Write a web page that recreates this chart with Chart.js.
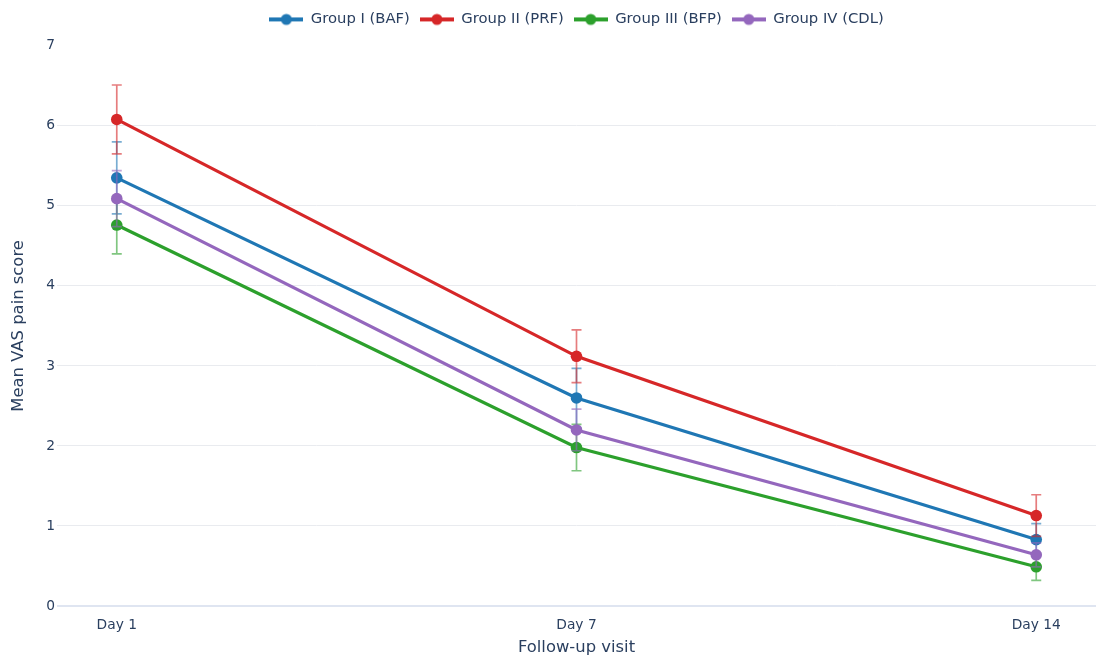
<!DOCTYPE html>
<html>
<head>
<meta charset="utf-8">
<script src="https://cdn.jsdelivr.net/npm/chart.js@4.4.1/dist/chart.umd.min.js"></script>
<style>
    html, body { margin: 0; padding: 0; background: #fff; }
    #wrap { width: 1096px; height: 658px; }
</style>
</head>
<body>
<div id="wrap"><canvas id="painChart" width="1096" height="658"></canvas></div>
<script>
// follow-up visits
const visits = ["Day 1", "Day 7", "Day 14"];

// mean VAS pain score per group
const groupI = [5.35, 2.60, 0.83];
const groupII = [6.08, 3.12, 1.13];
const groupIII = [4.76, 1.98, 0.49];
const groupIV = [5.09, 2.20, 0.64];

// error bar half-heights (SD)
const groupIErr = [0.45, 0.37, 0.20];
const groupIIErr = [0.43, 0.33, 0.26];
const groupIIIErr = [0.36, 0.29, 0.17];
const groupIVErr = [0.35, 0.26, 0.15];

const groupLabels = ["Group I (BAF)", "Group II (PRF)", "Group III (BFP)", "Group IV (CDL)"];
const yTicks = [0, 1, 2, 3, 4, 5, 6, 7];

const series = [groupI, groupII, groupIII, groupIV];
const errors = [groupIErr, groupIIErr, groupIIIErr, groupIVErr];
const colors = ["#1f77b4", "#d62728", "#2ca02c", "#9467bd"];
const errColors = ["rgba(31,119,180,0.6)", "rgba(214,39,40,0.6)", "rgba(44,160,44,0.6)", "rgba(148,103,189,0.6)"];

const fontFamily = "'DejaVu Sans', Verdana, sans-serif";
const textColor = "#2a3f5f";

// small line + dot icon for the legend
function legendIcon(color) {
    const c = document.createElement("canvas");
    c.width = 34;
    c.height = 14;
    const ctx = c.getContext("2d");
    ctx.strokeStyle = color;
    ctx.lineWidth = 4;
    ctx.beginPath();
    ctx.moveTo(0, 7);
    ctx.lineTo(34, 7);
    ctx.stroke();
    ctx.fillStyle = color;
    ctx.beginPath();
    ctx.arc(17, 7, 5.5, 0, Math.PI * 2);
    ctx.fill();
    return c;
}

// draw the error bars of a dataset just before the dataset itself
const errorBars = {
    id: "errorBars",
    beforeLayout(chart) {
        // extra room under the legend
        const legend = chart.legend;
        if (legend && !legend._spaced) {
            legend._spaced = true;
            const fit = legend.fit;
            legend.fit = function() {
                fit.call(this);
                this.height += 9;
            };
        }
    },
    beforeDatasetDraw(chart, args) {
        const i = args.index;
        const yScale = chart.scales.y;
        const ctx = chart.ctx;
        ctx.save();
        ctx.strokeStyle = errColors[i];
        ctx.lineWidth = 1.7;
        args.meta.data.forEach((pt, j) => {
            const top = yScale.getPixelForValue(series[i][j] + errors[i][j]);
            const bottom = yScale.getPixelForValue(series[i][j] - errors[i][j]);
            ctx.beginPath();
            ctx.moveTo(pt.x, top);
            ctx.lineTo(pt.x, bottom);
            ctx.moveTo(pt.x - 5, top);
            ctx.lineTo(pt.x + 5, top);
            ctx.moveTo(pt.x - 5, bottom);
            ctx.lineTo(pt.x + 5, bottom);
            ctx.stroke();
        });
        ctx.restore();
    }
};

const datasets = series.map((values, i) => ({
    label: groupLabels[i],
    data: values.map((v, j) => ({x: j, y: v})),
    borderColor: colors[i],
    backgroundColor: colors[i],
    borderWidth: 3.2,
    pointRadius: 5.8,
    pointBorderWidth: 0,
    pointBackgroundColor: colors[i],
    clip: false,
    order: series.length - i
}));

new Chart(document.getElementById("painChart").getContext("2d"), {
    type: "line",
    data: {datasets: datasets},
    options: {
        responsive: false,
        animation: false,
        layout: {autoPadding: false, padding: {top: 2, right: 0, bottom: 0, left: 0}},
        plugins: {
            tooltip: {enabled: false},
            legend: {
                position: "top",
                fullSize: false,
                labels: {
                    usePointStyle: true,
                    pointStyleWidth: 34,
                    padding: 10,
                    color: textColor,
                    font: {family: fontFamily, size: 14.8},
                    generateLabels: (chart) => chart.data.datasets.map((ds, i) => ({
                        text: ds.label,
                        pointStyle: legendIcon(colors[i]),
                        fontColor: textColor,
                        fillStyle: colors[i],
                        strokeStyle: colors[i],
                        lineWidth: 0,
                        hidden: false,
                        datasetIndex: i
                    }))
                }
            }
        },
        scales: {
            x: {
                type: "linear",
                min: -0.13,
                max: 2.13,
                afterBuildTicks: (scale) => {
                    scale.ticks = visits.map((v, i) => ({value: i}));
                },
                afterFit: (scale) => {
                    scale.height = 52;
                },
                grid: {display: false},
                border: {display: false},
                ticks: {
                    padding: 3,
                    color: textColor,
                    font: {family: fontFamily, size: 13.8},
                    callback: (value) => visits[value]
                },
                title: {
                    display: true,
                    text: "Follow-up visit",
                    color: textColor,
                    font: {family: fontFamily, size: 16.4},
                    padding: {top: 0, bottom: 0}
                }
            },
            y: {
                min: 0,
                max: 7,
                afterBuildTicks: (scale) => {
                    scale.ticks = yTicks.map((v) => ({value: v}));
                },
                afterFit: (scale) => {
                    scale.width = 57;
                },
                grid: {
                    drawTicks: false,
                    color: (c) => c.tick.value === 0 ? "#dfe5f1" : (c.tick.value === 7 ? "rgba(0,0,0,0)" : "#e9ebef"),
                    lineWidth: (c) => c.tick.value === 0 ? 2 : 1
                },
                border: {display: false},
                ticks: {
                    padding: 2,
                    color: textColor,
                    font: {family: fontFamily, size: 13.8}
                },
                title: {
                    display: true,
                    text: "Mean VAS pain score",
                    color: textColor,
                    font: {family: fontFamily, size: 16.4},
                    padding: {top: 9, bottom: 0}
                }
            }
        }
    },
    plugins: [errorBars]
});
</script>
</body>
</html>
